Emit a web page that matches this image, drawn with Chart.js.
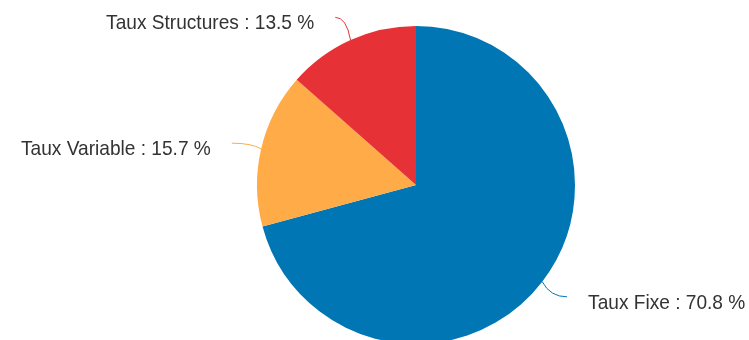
<!DOCTYPE html>
<html>
<head>
<meta charset="utf-8">
<script src="https://cdn.jsdelivr.net/npm/chart.js@4.4.0/dist/chart.umd.min.js"></script>
<style>
  html, body { margin: 0; padding: 0; background: #fff; overflow: hidden; }
  #wrap { position: relative; width: 749px; height: 370px; }
</style>
</head>
<body>
<div id="wrap"><canvas id="pie"></canvas></div>
<script>
// data
const categories = ['Taux Fixe', 'Taux Variable', 'Taux Structures'];
const shares = [70.8, 15.7, 13.5];
const sliceColors = ['#0077b4', '#ffab48', '#e63236'];

// labels with soft connectors, drawn outside the pie
const outsideLabels = {
  id: 'outsideLabels',
  afterDatasetsDraw(chart) {
    const ctx = chart.ctx;
    const meta = chart.getDatasetMeta(0);
    ctx.save();
    ctx.font = '21px "Liberation Sans", Arial, sans-serif';
    ctx.textBaseline = 'alphabetic';
    meta.data.forEach((arc, i) => {
      const mid = (arc.startAngle + arc.endAngle) / 2;
      const dx = Math.cos(mid), dy = Math.sin(mid);
      const r = arc.outerRadius;
      const right = dx >= 0;
      const ex = arc.x + r * dx, ey = arc.y + r * dy;
      const ox = arc.x + (r + 25) * dx + (right ? 5 : -5);
      const oy = arc.y + (r + 25) * dy;
      const cx = ex + 10 * dx, cy = oy;
      ctx.strokeStyle = sliceColors[i];
      ctx.lineWidth = 1;
      ctx.beginPath();
      ctx.moveTo(ex, ey);
      ctx.quadraticCurveTo(cx, cy, ox, oy);
      ctx.stroke();
      // text is a bit narrower than plain Arial in the original
      const txt = categories[i] + ' : ' + shares[i] + ' %';
      const tx = ox + (right ? 21 : -21);
      ctx.save();
      ctx.translate(tx, oy + 12);
      ctx.scale(0.91, 1);
      ctx.fillStyle = '#333333';
      ctx.textAlign = right ? 'left' : 'right';
      ctx.fillText(txt, 0, 0);
      ctx.restore();
    });
    ctx.restore();
  }
};

new Chart(document.getElementById('pie'), {
  type: 'pie',
  data: {
    labels: categories,
    datasets: [{
      data: shares,
      backgroundColor: sliceColors,
      borderWidth: 0,
      radius: 159
    }]
  },
  options: {
    responsive: true,
    maintainAspectRatio: false,
    animation: false,
    layout: { padding: { left: 83, right: 0, top: 0, bottom: 0 } },
    plugins: {
      legend: { display: false },
      tooltip: { enabled: false }
    }
  },
  plugins: [outsideLabels]
});
</script>
</body>
</html>
